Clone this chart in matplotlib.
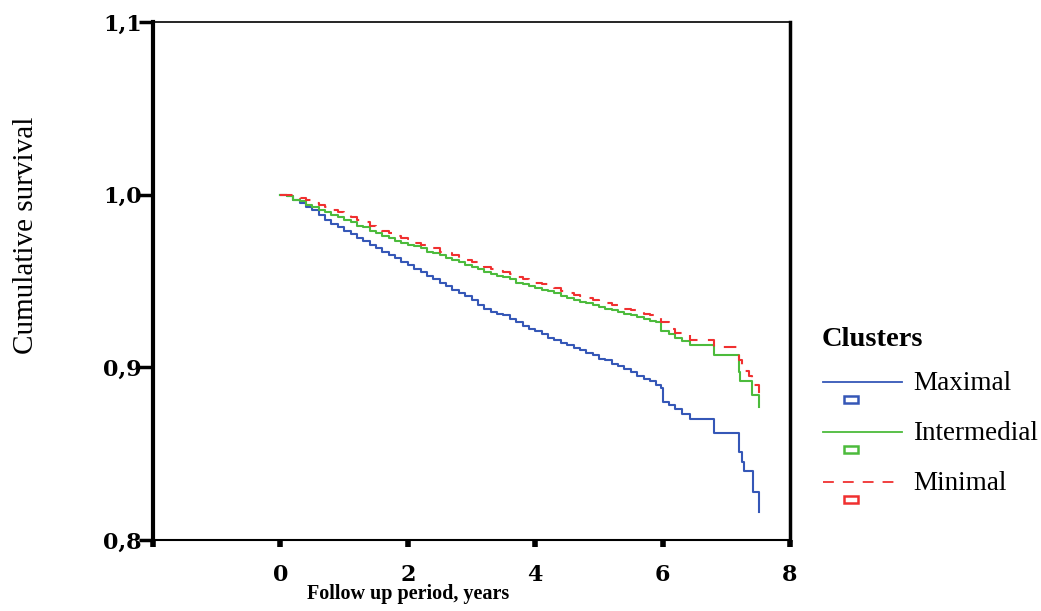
import matplotlib
matplotlib.use("Agg")
import matplotlib.pyplot as plt
from matplotlib.lines import Line2D
from matplotlib.patches import Rectangle

plt.rcParams['font.family'] = ['Liberation Serif', 'DejaVu Serif']

# Datos, tiempo en anios
t_base = [0.0, 0.1, 0.2, 0.3, 0.4, 0.5, 0.6, 0.7, 0.8, 0.9,
          1.0, 1.1, 1.2, 1.3, 1.4, 1.5, 1.6, 1.7, 1.8, 1.9,
          2.0, 2.1, 2.2, 2.3, 2.4, 2.5, 2.6, 2.7, 2.8, 2.9,
          3.0, 3.1, 3.2, 3.3, 3.4, 3.5, 3.6, 3.7, 3.8, 3.9,
          4.0, 4.1, 4.2, 4.3, 4.4, 4.5, 4.6, 4.7, 4.8, 4.9,
          5.0, 5.1, 5.2, 5.3, 5.4, 5.5, 5.6, 5.7, 5.8, 5.9]

s_max_base = [1.000, 0.999, 0.997, 0.995, 0.993, 0.991, 0.988, 0.985, 0.983, 0.981,
              0.979, 0.977, 0.975, 0.973, 0.971, 0.969, 0.967, 0.965, 0.963, 0.961,
              0.959, 0.957, 0.955, 0.953, 0.951, 0.949, 0.947, 0.945, 0.943, 0.941,
              0.939, 0.936, 0.934, 0.932, 0.931, 0.930, 0.928, 0.926, 0.924, 0.922,
              0.921, 0.919, 0.917, 0.916, 0.914, 0.913, 0.911, 0.910, 0.908, 0.907,
              0.905, 0.904, 0.902, 0.901, 0.899, 0.897, 0.895, 0.893, 0.892, 0.890]
t_max_cola = [5.98, 6.0, 6.1, 6.2, 6.3, 6.43, 6.8, 7.2, 7.25, 7.28, 7.41, 7.51]
s_max_cola = [0.888, 0.880, 0.878, 0.876, 0.873, 0.870, 0.862, 0.851, 0.845, 0.840, 0.828, 0.8165]

s_int_base = [1.000, 0.999, 0.997, 0.996, 0.994, 0.993, 0.991, 0.990, 0.988, 0.987,
              0.985, 0.984, 0.982, 0.981, 0.979, 0.978, 0.976, 0.975, 0.973, 0.972,
              0.971, 0.970, 0.969, 0.967, 0.966, 0.965, 0.963, 0.962, 0.961, 0.959,
              0.958, 0.957, 0.955, 0.954, 0.953, 0.952, 0.951, 0.949, 0.948, 0.947,
              0.946, 0.945, 0.944, 0.943, 0.941, 0.940, 0.939, 0.938, 0.937, 0.936,
              0.935, 0.934, 0.933, 0.932, 0.931, 0.930, 0.929, 0.928, 0.927, 0.926]
t_int_cola = [5.98, 6.1, 6.2, 6.3, 6.43, 6.8, 7.2, 7.22, 7.4, 7.51]
s_int_cola = [0.921, 0.919, 0.917, 0.915, 0.913, 0.907, 0.897, 0.892, 0.884, 0.877]

s_min_base = [1.000, 1.000, 0.999, 0.998, 0.997, 0.995, 0.994, 0.993, 0.991, 0.990,
              0.988, 0.987, 0.985, 0.984, 0.982, 0.981, 0.979, 0.978, 0.976, 0.975,
              0.974, 0.972, 0.971, 0.970, 0.969, 0.967, 0.966, 0.965, 0.963, 0.962,
              0.961, 0.960, 0.958, 0.957, 0.956, 0.955, 0.954, 0.952, 0.951, 0.950,
              0.949, 0.948, 0.947, 0.946, 0.944, 0.943, 0.942, 0.941, 0.940, 0.939,
              0.938, 0.937, 0.936, 0.935, 0.934, 0.933, 0.932, 0.931, 0.930, 0.929]
t_min_cola = [5.98, 6.1, 6.2, 6.43, 6.8, 7.2, 7.25, 7.35, 7.4, 7.51]
s_min_cola = [0.926, 0.922, 0.920, 0.916, 0.912, 0.904, 0.898, 0.895, 0.890, 0.884]

x_ticks = [-2, 0, 2, 4, 6, 8]
x_labels = ['', '0', '2', '4', '6', '8']
y_ticks = [0.8, 0.9, 1.0, 1.1]
y_labels = ['0,8', '0,9', '1,0', '1,1']

series = [("Maximal", t_base + t_max_cola, s_max_base + s_max_cola, "#3557b7", "-"),
          ("Intermedial", t_base + t_int_cola, s_int_base + s_int_cola, "#4cbb3c", "-"),
          ("Minimal", t_base + t_min_cola, s_min_base + s_min_cola, "#f03030", (0, (6, 5)))]

fig = plt.figure(figsize=(10.41, 6.11), dpi=100)
ax = fig.add_axes([0.147, 0.1162, 0.612, 0.848])

for nombre, t, s, c, ls in series:
    ax.step(t, s, where="post", color=c, linestyle=ls, lw=1.5)

ax.set_xlim(-2, 8)
ax.set_ylim(0.8, 1.1)
ax.set_xticks(x_ticks)
ax.set_xticklabels(x_labels, fontsize=16, fontweight="bold", family="DejaVu Serif")
ax.set_yticks(y_ticks)
ax.set_yticklabels(y_labels, fontsize=16, fontweight="bold", family="DejaVu Serif")
ax.tick_params(axis="y", direction="out", length=10, width=2.5, pad=-2)
ax.tick_params(axis="x", direction="out", length=5, width=4, pad=12)

ax.spines["left"].set_linewidth(3)
ax.spines["bottom"].set_linewidth(1.5)
ax.spines["right"].set_linewidth(2.5)
ax.spines["top"].set_linewidth(1.2)

ax.set_xlabel("Follow up period, years", fontsize=14.5, fontweight="bold")
ax.xaxis.set_label_coords(0.40, -0.085)
ax.set_ylabel("Cumulative survival", fontsize=21)
ax.yaxis.set_label_coords(-0.179, 0.589)

# leyenda manual
W, H = 1041.0, 611.0
fig.text(822 / W, 1 - 340 / H, "Clusters", fontsize=20.5, fontweight="bold",
         va="center", ha="left")
y0 = 382
for nombre, t, s, c, ls in series:
    fig.add_artist(Line2D([823 / W, 902 / W], [1 - y0 / H, 1 - y0 / H],
                          color=c, linestyle=ls, lw=1.3))
    fig.add_artist(Rectangle((844 / W, 1 - (y0 + 21) / H), 14 / W, 7 / H,
                             fill=False, edgecolor=c, lw=1.8))
    fig.text(913 / W, 1 - (y0 + 1) / H, nombre, fontsize=19.5, va="center", ha="left")
    y0 += 50

plt.savefig("out.png", dpi=100)
